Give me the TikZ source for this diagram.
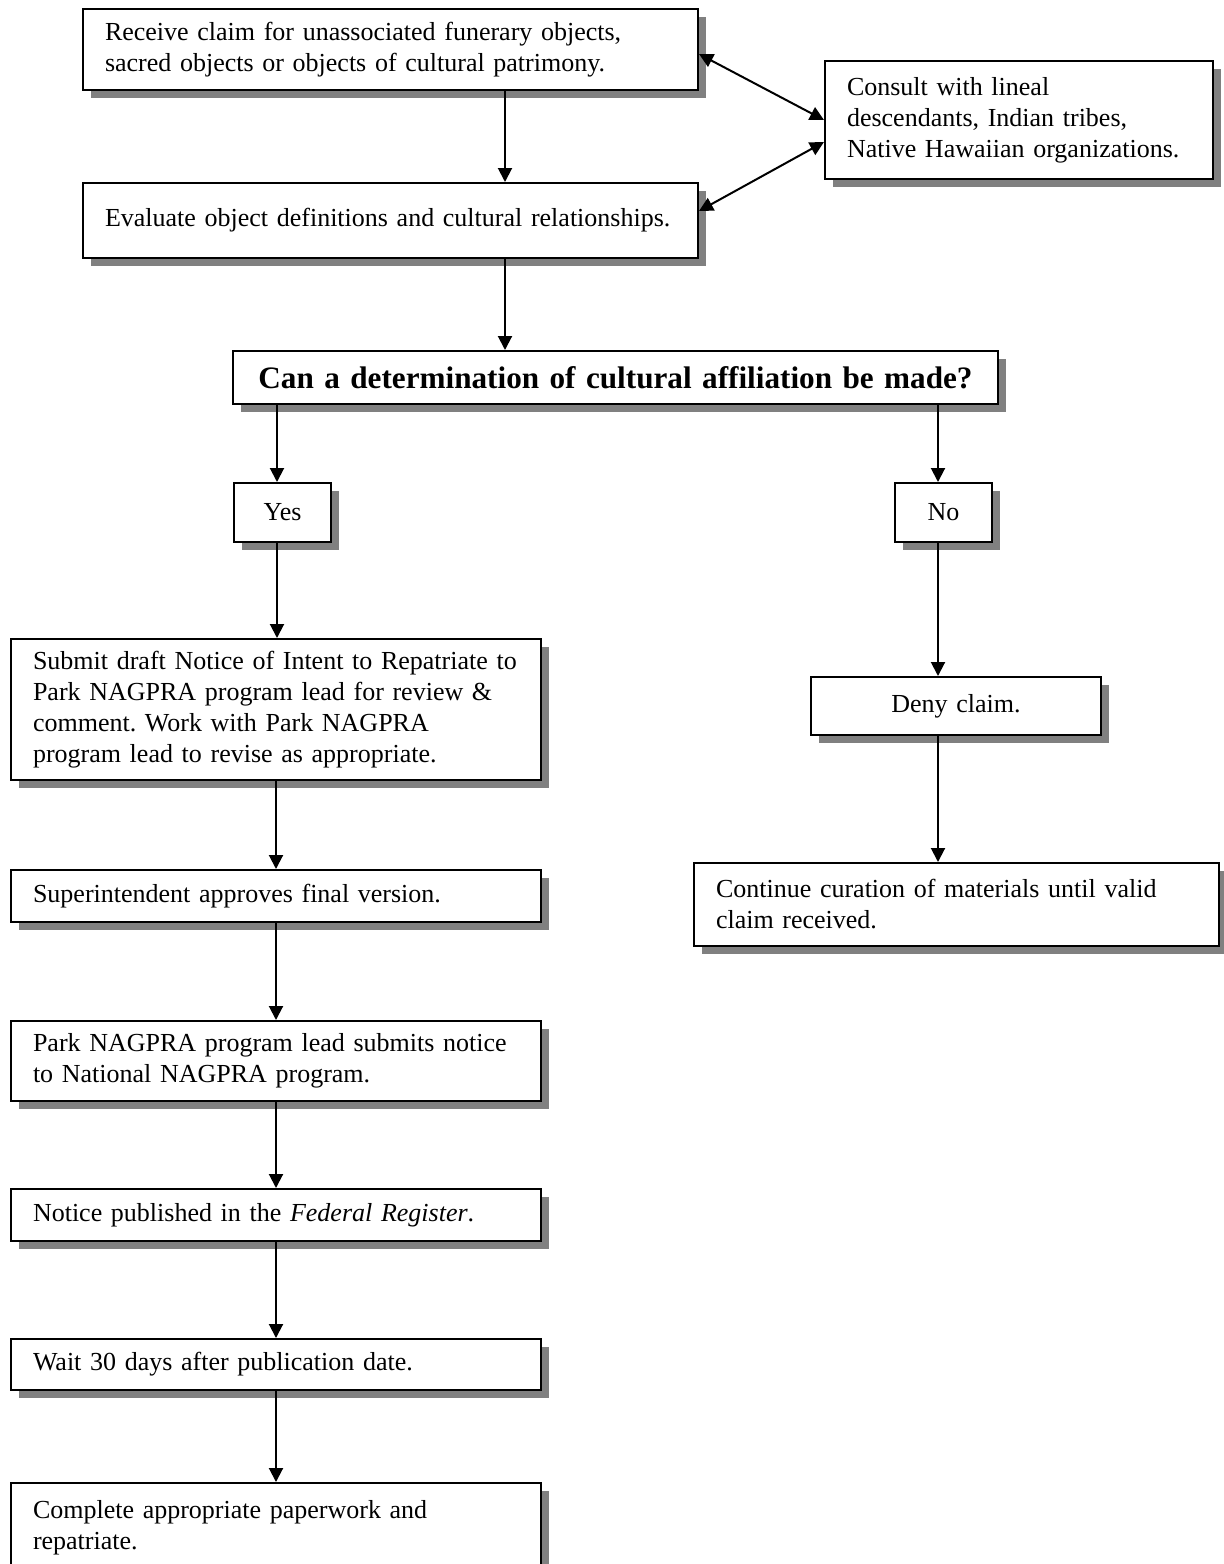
\documentclass[tikz,border=0pt]{standalone}
\usepackage{fontspec}
\setmainfont{Liberation Serif}
\usetikzlibrary{arrows.meta,shadows}
\tikzset{
    %Define standard arrow tip
    >={Triangle[length=7pt,width=7pt]},
    %Define style for boxes
    stepbox/.style={
           rectangle,
           draw=black, line width=1pt,
           fill=white,
           anchor=north west,
           inner xsep=10.5pt, inner ysep=1pt,
           font=\fontsize{13}{15.5}\selectfont,
           align=left,
           drop shadow={shadow xshift=4pt, shadow yshift=-4pt,
                        fill=black!50, opacity=1}},
    answer/.style={
           stepbox,
           align=center},
    question/.style={
           stepbox,
           align=center,
           font=\fontsize{15.6}{18}\selectfont\bfseries},
    % box of given width and height in px
    boxwh/.code 2 args={
           \pgfmathsetlengthmacro\boxtw{#1*0.5pt-22pt}%
           \pgfkeysalso{minimum width=#1*0.5pt, minimum height=#2*0.5pt, text width=\boxtw}},
    % Define arrow style
    pil/.style={
           ->,
           line width=1pt}
}

\begin{document}
\frenchspacing
\begin{tikzpicture}[x=0.5pt,y=-0.5pt]
\useasboundingbox (0,0) rectangle (1224,1564);
% top part
\node[stepbox,boxwh={615}{81}] (receive) at (82,8)
   {Receive claim for unassociated funerary objects,\\ sacred objects or objects of cultural patrimony.};
\node[stepbox,boxwh={615}{75}] (evaluate) at (82,182)
   {Evaluate object definitions and cultural relationships.};
\node[stepbox,boxwh={388}{118}] (consult) at (824,60)
   {Consult with lineal\\ descendants, Indian tribes,\\ Native Hawaiian organizations.};
\node[question,boxwh={765}{53}] (decide) at (232,350)
   {Can a determination of cultural affiliation be made?};
% answers
\node[answer,boxwh={97}{59}] (yes) at (233,482) {Yes};
\node[answer,boxwh={97}{59}] (no) at (894,482) {No};
% yes branch
\node[stepbox,boxwh={530}{141}] (submit) at (10,638)
   {Submit draft Notice of Intent to Repatriate to\\ Park NAGPRA program lead for review \&\\ comment. Work with Park NAGPRA\\ program lead to revise as appropriate.};
\node[stepbox,boxwh={530}{52}] (approve) at (10,869)
   {Superintendent approves final version.};
\node[stepbox,boxwh={530}{80}] (lead) at (10,1020)
   {Park NAGPRA program lead submits notice\\ to National NAGPRA program.};
\node[stepbox,boxwh={530}{52}] (publish) at (10,1188)
   {Notice published in the \textit{Federal Register}.};
\node[stepbox,boxwh={530}{51}] (wait) at (10,1338)
   {Wait 30 days after publication date.};
\node[stepbox,boxwh={530}{90}] (complete) at (10,1482)
   {Complete appropriate paperwork and\\ repatriate.};
% no branch
\node[answer,boxwh={290}{58}] (deny) at (810,676) {Deny claim.};
\node[stepbox,boxwh={525}{83}] (curate) at (693,862)
   {Continue curation of materials until valid\\ claim received.};
% helper columns
\coordinate (c1) at (505,0);
\coordinate (c2) at (277,0);
\coordinate (c3) at (938,0);
\path[pil]
    (receive.south -| c1) edge (evaluate.north -| c1)
    (evaluate.south -| c1) edge (decide.north -| c1)
    (decide.south -| c2) edge (yes.north -| c2)
    (decide.south -| c3) edge (no.north -| c3)
    (yes.south -| c2) edge (submit.north -| c2)
    (no.south -| c3) edge (deny.north -| c3)
    (submit) edge (approve)
    (approve) edge (lead)
    (lead) edge (publish)
    (publish) edge (wait)
    (wait) edge (complete)
    (deny.south -| c3) edge (curate.north -| c3);
\draw[pil,<->] ([yshift=-23pt]receive.north east) -- (consult.west);
\draw[pil,<->] ([yshift=-14.5pt]evaluate.north east) -- ([yshift=-11pt]consult.west);
\end{tikzpicture}
\end{document}
